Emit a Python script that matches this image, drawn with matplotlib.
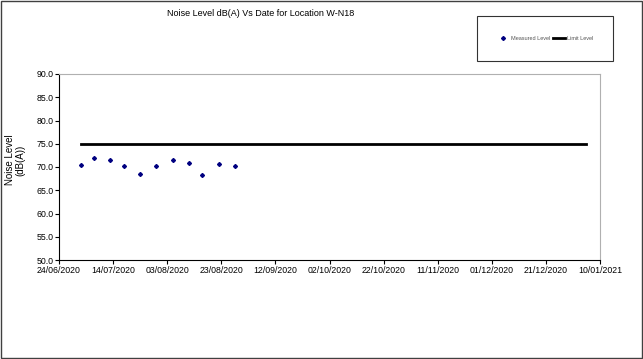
import matplotlib
matplotlib.use("Agg")
import matplotlib.pyplot as plt
import matplotlib.dates as mdates
from datetime import datetime, timedelta

plt.rcParams["font.family"] = ["Liberation Sans", "DejaVu Sans"]

# measured noise levels
dates = ["02/07/2020", "07/07/2020", "13/07/2020", "18/07/2020", "24/07/2020",
         "30/07/2020", "05/08/2020", "11/08/2020", "16/08/2020", "22/08/2020",
         "28/08/2020"]
levels = [70.4, 72.0, 71.4, 70.2, 68.5, 70.3, 71.4, 70.9, 68.3, 70.7, 70.3]

# limit level line
limit_dates = ["02/07/2020", "05/01/2021"]
limit_values = [75.0, 75.0]

x_start = datetime(2020, 6, 24)
x_end = datetime(2021, 1, 10)

def to_dt(s):
    return datetime.strptime(s, "%d/%m/%Y")

fig = plt.figure(figsize=(6.43, 3.59), dpi=100)
ax = fig.add_axes([59 / 643, 99 / 359, 541 / 643, 186 / 359])

ax.plot([to_dt(d) for d in limit_dates], limit_values, color="black", lw=2,
        label="Limit Level", zorder=2)
ax.plot([to_dt(d) for d in dates], levels, ls="none", marker="D", ms=2.0,
        color="#000080", label="Measured Level", zorder=3)

ax.set_xlim(x_start, x_end)
ax.set_ylim(50, 90)
ax.set_yticks([50 + 5 * i for i in range(9)])
ax.yaxis.set_major_formatter(matplotlib.ticker.FormatStrFormatter("%.1f"))
ax.set_xticks([x_start + timedelta(days=20 * i) for i in range(11)])
ax.xaxis.set_major_formatter(mdates.DateFormatter("%d/%m/%Y"))
ax.tick_params(labelsize=6.3, length=3, width=0.8, direction="out", pad=1)

for side in ["top", "right"]:
    ax.spines[side].set_color("#b0b0b0")
for side in ["left", "bottom"]:
    ax.spines[side].set_color("black")

fig.text(15 / 643, 1 - 160 / 359, "Noise Level\n(dB(A))", rotation=90,
         ha="center", va="center", fontsize=7, linespacing=1.0)

fig.text(261 / 643, 1 - 14 / 359, "Noise Level dB(A) Vs Date for Location W-N18",
         ha="center", va="center", fontsize=6.5)

handles, labels = ax.get_legend_handles_labels()
leg = fig.legend(handles[::-1], labels[::-1], loc="center",
                 bbox_to_anchor=(545 / 643, 1 - 38 / 359), ncol=2, fontsize=4,
                 frameon=True, fancybox=False, handlelength=2.2,
                 columnspacing=0.5, handletextpad=0.3, borderpad=3.6,
                 borderaxespad=0)
leg.get_frame().set_edgecolor("black")
leg.get_frame().set_linewidth(0.8)
for t in leg.get_texts():
    t.set_color("#555555")

# outer border
fig.patches.append(plt.Rectangle((0.001, 0.002), 0.997, 0.995, fill=False,
                                 edgecolor="#404040", lw=1,
                                 transform=fig.transFigure))

fig.savefig("out.png", dpi=100)
